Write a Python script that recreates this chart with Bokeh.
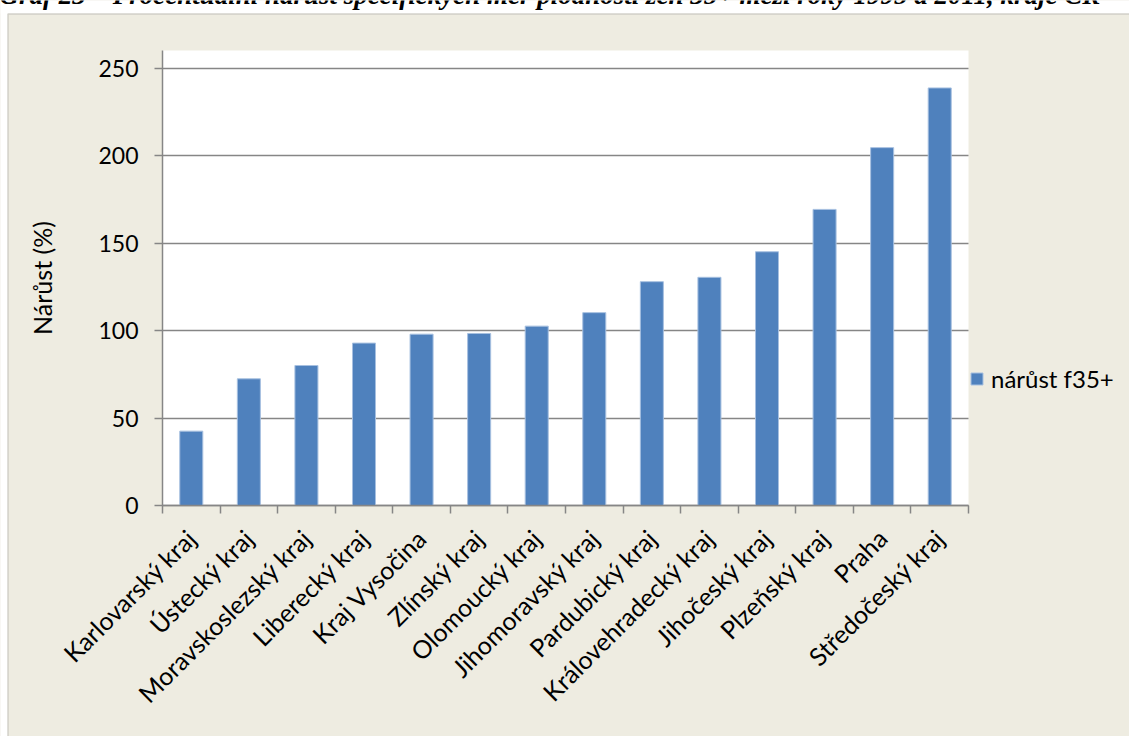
import math

from bokeh.embed import file_html
from bokeh.models import (BoxAnnotation, FixedTicker, Label, Legend,
                          LegendItem, Range1d)
from bokeh.plotting import figure
from bokeh.resources import INLINE

# --- data -----------------------------------------------------------------
regions = [
    "Karlovarský kraj", "Ústecký kraj", "Moravskoslezský kraj",
    "Liberecký kraj", "Kraj Vysočina", "Zlínský kraj", "Olomoucký kraj",
    "Jihomoravský kraj", "Pardubický kraj", "Královehradecký kraj",
    "Jihočeský kraj", "Plzeňský kraj", "Praha", "Středočeský kraj",
]
growth = [42.5, 72.4, 80.0, 92.8, 97.9, 98.3, 102.5, 110.2,
          127.9, 130.4, 145.0, 169.2, 204.5, 238.6]
y_ticks = [0, 50, 100, 150, 200, 250]
y_max = 260
series_name = "nárůst f35+"
y_label = "Nárůst (%)"
title_text = ("Graf 23 – Procentuální nárůst specifických měr plodnosti "
              "žen 35+ mezi roky 1995 a 2011, kraje ČR")

# --- page geometry (pixels) ---------------------------------------------
W, H = 1129, 736
PLOT_L, PLOT_R, PLOT_T, PLOT_B = 162, 968, 50, 505   # inner plot area
BEIGE = "#EEECE1"
GREY = "#868686"
EDGE = "#8C8C8C"
BLUE = "#4F81BD"
FONT = "Lato"
FS_TICK = "23px"
FS_TEXT = "24px"

n = len(regions)
centers = [i + 0.5 for i in range(n)]

# the frame fills the whole page; the ranges are widened so that the
# categories 0..n and values 0..y_max land on the inner plot area
px_x = (PLOT_R - PLOT_L) / n
px_y = (PLOT_B - PLOT_T) / y_max
x_range = Range1d(-PLOT_L / px_x, (W - PLOT_L) / px_x)
y_range = Range1d(-(H - PLOT_B) / px_y, PLOT_B / px_y)

p = figure(
    width=W, height=H, output_backend="svg", toolbar_location=None,
    x_range=x_range, y_range=y_range, min_border=0,
    border_fill_color=BEIGE, background_fill_color=BEIGE,
    outline_line_color=None,
)

# white inner plot area
p.add_layout(BoxAnnotation(left=0, right=n, bottom=0, top=y_max,
                           fill_color="white", fill_alpha=1,
                           line_color=None, level="image"))

# horizontal gridlines only, limited to the plot area
p.xgrid.visible = False
grid = p.ygrid[0]
if "cross_bounds" in grid.properties():
    grid.ticker = FixedTicker(ticks=y_ticks)
    grid.cross_bounds = (0, n)
    grid.grid_line_color = GREY
    grid.grid_line_width = 1.5
else:
    grid.visible = False
    p.segment(x0=0, x1=n, y0=y_ticks, y1=y_ticks,
              line_color=GREY, line_width=1.5, level="underlay")

# value axis
ya = p.yaxis[0]
ya.fixed_location = 0
ya.bounds = (0, y_max)
ya.ticker = FixedTicker(ticks=y_ticks)
ya.axis_line_color = GREY
ya.axis_line_width = 1.5
ya.major_tick_line_color = GREY
ya.major_tick_line_width = 1.5
ya.major_tick_out = 8
ya.major_tick_in = 0
ya.minor_tick_line_color = None
ya.major_label_standoff = 16
ya.major_label_text_font = FONT
ya.major_label_text_font_size = FS_TICK
ya.major_label_text_color = "black"

# category axis: labels at bar centres, tick marks at category boundaries
xa = p.xaxis[0]
xa.fixed_location = 0
xa.bounds = (0, n)
xa.ticker = FixedTicker(ticks=centers, minor_ticks=list(range(n + 1)))
xa.major_label_overrides = {c: r for c, r in zip(centers, regions)}
xa.major_label_orientation = math.pi / 4
xa.major_tick_line_color = None
xa.major_tick_out = 0
xa.major_tick_in = 0
xa.minor_tick_line_color = GREY
xa.minor_tick_line_width = 1.5
xa.minor_tick_out = 8
xa.minor_tick_in = 0
xa.axis_line_color = GREY
xa.axis_line_width = 1.5
xa.major_label_standoff = 20
xa.major_label_text_font = FONT
xa.major_label_text_font_size = "25px"
xa.major_label_text_color = "black"

bars = p.vbar(x=centers, top=growth, width=0.4, bottom=0,
              fill_color=BLUE, line_color="#A7C0E0", line_width=1)

# value-axis title
p.add_layout(Label(x=41, y=(PLOT_T + PLOT_B) / 2, x_units="canvas",
                   y_units="canvas", text=y_label, angle=math.pi / 2,
                   text_font=FONT, text_font_size="25px", text_color="black",
                   text_align="center", text_baseline="middle"))

legend = Legend(
    items=[LegendItem(label=series_name, renderers=[bars])],
    location=(PLOT_R + 1, H - 393), orientation="vertical",
    glyph_width=15, glyph_height=15, label_standoff=7,
    padding=0, margin=0, spacing=0,
    border_line_color=None, background_fill_alpha=0,
    label_text_font=FONT, label_text_font_size=FS_TEXT,
    label_text_color="black",
)
p.add_layout(legend, "center")

# white page strip above and left of the chart box, and the box border
for box in [dict(left=0, right=W, top=0, bottom=13),
            dict(left=0, right=7, top=0, bottom=H)]:
    p.add_layout(BoxAnnotation(**box, left_units="canvas",
                               right_units="canvas", top_units="canvas",
                               bottom_units="canvas", fill_color="white",
                               fill_alpha=1, line_color=None,
                               level="overlay"))
p.add_layout(BoxAnnotation(left=7.5, right=W + 10, top=13.5, bottom=H + 10,
                           left_units="canvas", right_units="canvas",
                           top_units="canvas", bottom_units="canvas",
                           fill_alpha=0, line_color=EDGE, line_width=1.5,
                           level="overlay"))

# document caption, running off the top edge of the page
p.add_layout(Label(x=-1, y=-6, x_units="canvas", y_units="canvas",
                   text=title_text, text_font="Liberation Serif",
                   text_font_style="bold italic", text_font_size="27px",
                   text_baseline="alphabetic", text_align="left",
                   text_color="black", level="overlay"))

open("out.html", "w").write(file_html(p, INLINE))
